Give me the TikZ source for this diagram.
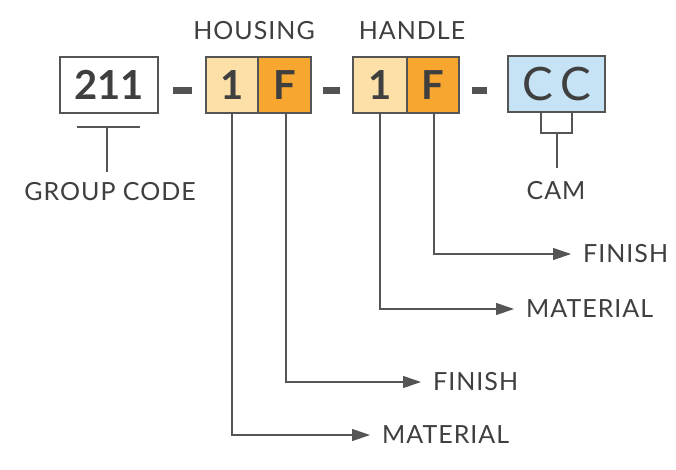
\documentclass[tikz,border=0pt]{standalone}
\usepackage{fontspec}
\setmainfont{Lato}
\newfontfamily\lblfont[LetterSpace=4]{Lato}
\usetikzlibrary{arrows.meta}
\definecolor{txt}{HTML}{3F3F3F}
\definecolor{ln}{HTML}{555555}
\definecolor{lightor}{HTML}{FCE0A8}
\definecolor{darkor}{HTML}{F7A730}
\definecolor{lblue}{HTML}{C6E3F6}
\tikzset{
  codebox/.style={draw=ln, line width=1.1pt, minimum height=56pt, inner sep=0pt, text=txt, font=\fontsize{40}{40}\selectfont\bfseries},
  head/.style={text=txt, font=\lblfont\fontsize{25}{25}\selectfont, inner sep=0pt},
  lbl/.style={text=txt, font=\lblfont\fontsize{25}{25}\selectfont, inner sep=0pt, anchor=west},
  conn/.style={draw=ln, line width=1.1pt},
  arr/.style={conn, -{Triangle[length=18pt,width=12pt]}, shorten >=12pt},
  sep/.style={draw=txt!90!white, line width=7pt}
}
\begin{document}
\begin{tikzpicture}[x=1pt,y=-1pt]
\useasboundingbox[fill=white] (0,0) rectangle (676,469);
% boxes
\node[codebox, minimum width=98pt] (g) at (109,85) {211};
\node[codebox, fill=lightor, minimum width=52pt] (h1) at (232,85) {1};
\node[codebox, fill=darkor, minimum width=53pt] (hf) at (284.5,85) {F};
\node[codebox, fill=lightor, minimum width=54pt] (a1) at (380,85) {1};
\node[codebox, fill=darkor, minimum width=52pt] (af) at (433,85) {F};
\node[codebox, fill=lblue, minimum width=97pt, font=\fontsize{46}{46}\selectfont] (cc) at (556.5,84) {C\hspace{7pt}C};
% separators
\draw[sep] (173,90) -- (192,90);
\draw[sep] (323,90) -- (340,90);
\draw[sep] (472,90) -- (487,90);
% headings
\node[head] (hous) at (254,31) {HOUSING};
\node[head] (hand) at (412,31) {HANDLE};
% group code
\node[head] (gc) at (110,192) {GROUP CODE};
\coordinate (gl) at (77,127);
\coordinate (gr) at (140,127);
\coordinate (gm) at (107,127);
\draw[conn] (gl) -- (gr);
\draw[conn] (gm) -- (107,172);
% cam
\node[head] (cam) at (556,191) {CAM};
\coordinate (cl) at (541,111);
\coordinate (cr) at (572,111);
\coordinate (cm) at (557,133);
\draw[conn] (cl) |- (cm) -| (cr);
\draw[conn] (cm) -- (557,168);
% labels
\node[lbl] (af-l) at (583,254) {FINISH};
\node[lbl] (a1-l) at (526,309) {MATERIAL};
\node[lbl] (hf-l) at (433,382) {FINISH};
\node[lbl] (h1-l) at (382,435) {MATERIAL};
\draw[arr] ([xshift=1pt]af.south) |- (af-l.west);
\draw[arr] (a1.south) |- (a1-l.west);
\draw[arr] ([xshift=1.5pt]hf.south) |- (hf-l.west);
\draw[arr] (h1.south) |- (h1-l.west);
\end{tikzpicture}
\end{document}
